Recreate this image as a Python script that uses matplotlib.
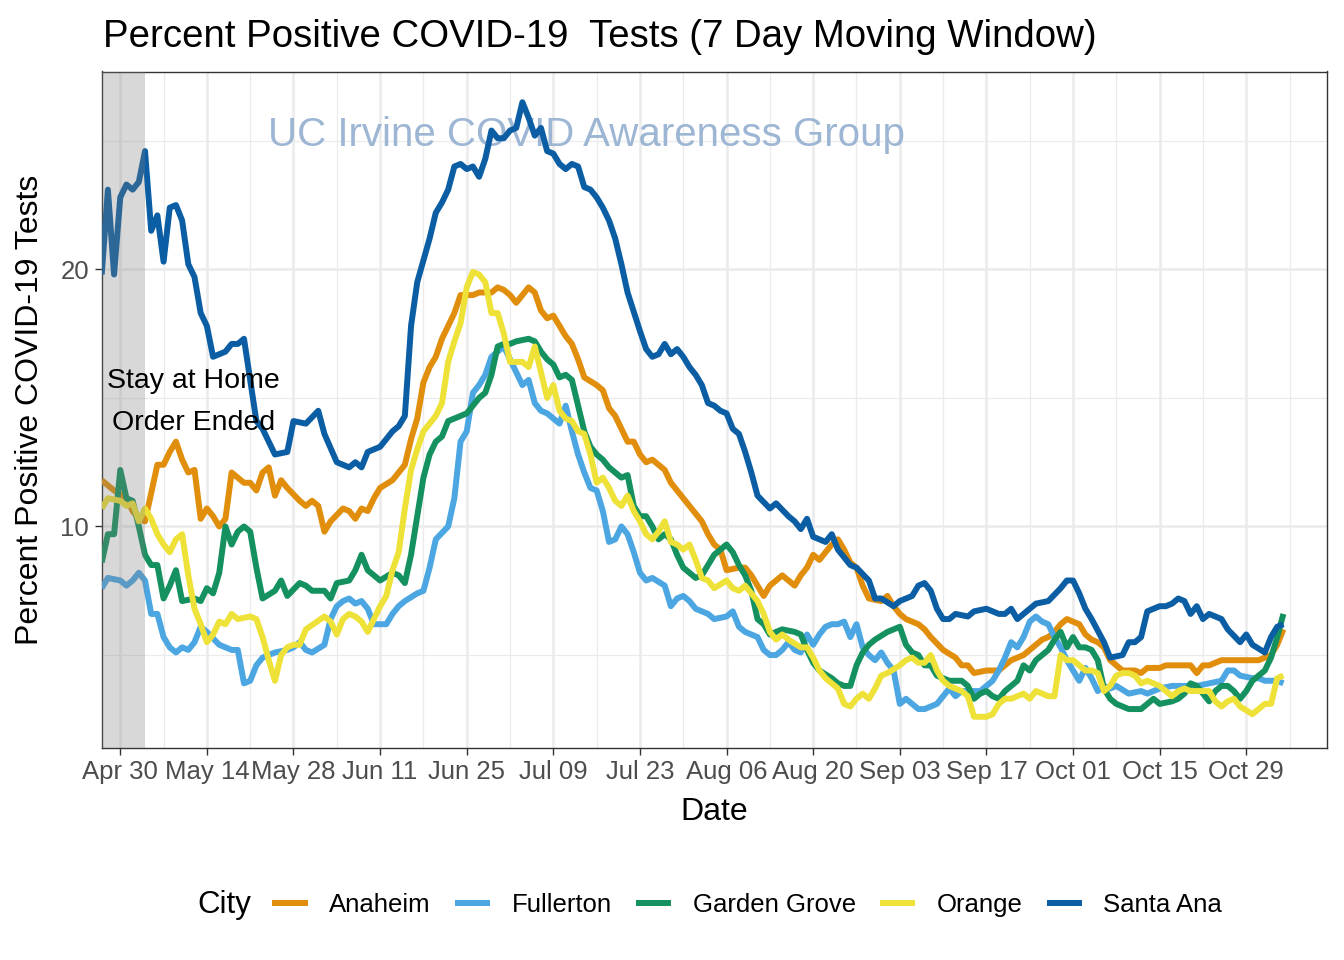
import pandas as pd
import matplotlib
matplotlib.use('Agg')
import matplotlib.pyplot as plt
from matplotlib.lines import Line2D

plt.rcParams['font.family'] = ['Liberation Sans', 'DejaVu Sans']

# day offsets from 2020-04-27 and 7-day percent positive
start = pd.Timestamp('2020-04-27')
order_end = pd.Timestamp('2020-05-04')

anaheim_day = [0, 2, 4, 5, 6, 7, 9, 10, 11, 12, 13, 14, 15, 16, 17, 18, 19, 20, 21, 22, 23, 24, 25, 26, 27, 28, 29, 30,
               32, 33, 34, 35, 36, 37, 39, 40, 41, 42, 43, 44, 45, 47, 48, 49, 50, 51, 52, 53, 54, 55, 57, 58, 59, 60, 61,
               63, 64, 65, 66, 67, 68, 69, 70, 71, 72, 73, 74, 75, 76, 77, 78, 80, 81, 82, 83, 84, 85, 86, 87, 88, 89, 90,
               91, 92, 94, 95, 96, 97, 98, 99, 100, 101, 103, 104, 105, 106, 107, 108, 110, 111, 112, 113, 114, 115, 116,
               117, 118, 119, 120, 121, 122, 123, 124, 126, 127, 128, 129, 130, 132, 133, 134, 136, 138, 139, 140, 141,
               143, 145, 146, 147, 149, 150, 152, 153, 154, 155, 156, 158, 159, 160, 161, 162, 163, 164, 165, 167, 168,
               169, 171, 172, 174, 176, 177, 178, 179, 181, 182, 183, 185, 186, 187, 189, 190, 191]
anaheim_pct = [11.8, 11.4, 11.1, 10.6, 10.3, 10.2, 12.4, 12.4, 12.9, 13.3, 12.6, 12.1, 12.2, 10.3, 10.7, 10.4, 10.0, 10.3,
               12.1, 11.9, 11.7, 11.7, 11.4, 12.1, 12.3, 11.2, 11.8, 11.5, 11.0, 10.8, 11.0, 10.8, 9.8, 10.2, 10.7, 10.6,
               10.3, 10.7, 10.6, 11.1, 11.5, 11.8, 12.1, 12.4, 13.4, 14.2, 15.6, 16.2, 16.6, 17.3, 18.3, 19.0, 19.0, 19.0,
               19.1, 19.1, 19.3, 19.2, 19.0, 18.7, 19.0, 19.3, 19.1, 18.4, 18.1, 18.2, 17.8, 17.4, 17.1, 16.5, 15.8, 15.5,
               15.3, 14.6, 14.3, 13.8, 13.3, 13.3, 12.8, 12.5, 12.6, 12.4, 12.2, 11.7, 11.1, 10.8, 10.5, 10.2, 9.7, 9.3,
               9.1, 8.3, 8.4, 8.4, 8.1, 7.7, 7.3, 7.7, 8.1, 7.9, 7.7, 8.1, 8.4, 8.9, 8.7, 9.0, 9.3, 9.5, 9.1, 8.6, 8.4,
               7.7, 7.2, 7.1, 7.3, 6.9, 6.6, 6.4, 6.2, 6.0, 5.7, 5.2, 4.9, 4.6, 4.6, 4.3, 4.4, 4.4, 4.6, 4.8, 5.0, 5.2,
               5.6, 5.7, 5.9, 6.2, 6.4, 6.2, 5.8, 5.6, 5.5, 5.3, 4.8, 4.6, 4.4, 4.4, 4.3, 4.5, 4.5, 4.6, 4.6, 4.6, 4.3,
               4.6, 4.6, 4.8, 4.8, 4.8, 4.8, 4.8, 4.8, 5.0, 5.4, 6.0]

fullerton_day = [0, 1, 3, 4, 5, 6, 7, 8, 9, 10, 11, 12, 13, 14, 15, 16, 17, 19, 20, 21, 22, 23, 24, 25, 26, 27, 28, 30,
                 31, 32, 33, 34, 36, 37, 38, 39, 40, 41, 42, 43, 44, 45, 46, 47, 48, 49, 51, 52, 53, 54, 56, 57, 58, 59,
                 60, 61, 62, 63, 65, 66, 67, 68, 69, 70, 71, 72, 73, 74, 75, 76, 77, 78, 79, 80, 81, 82, 83, 84, 85, 86,
                 87, 88, 89, 91, 92, 93, 94, 95, 96, 97, 98, 99, 101, 102, 103, 104, 106, 107, 108, 109, 110, 111, 112,
                 113, 114, 115, 116, 117, 118, 119, 120, 121, 122, 123, 124, 125, 126, 127, 128, 129, 130, 131, 132, 133,
                 135, 136, 137, 138, 139, 140, 142, 143, 144, 145, 146, 147, 148, 149, 150, 151, 152, 153, 154, 155, 156,
                 157, 158, 159, 160, 161, 162, 163, 164, 166, 168, 169, 171, 173, 174, 176, 177, 179, 181, 182, 183, 184,
                 186, 187, 188, 190, 191]
fullerton_pct = [7.6, 8.0, 7.9, 7.7, 7.9, 8.2, 7.9, 6.6, 6.6, 5.7, 5.3, 5.1, 5.3, 5.2, 5.5, 6.1, 5.9, 5.4, 5.3, 5.2, 5.2,
                 3.9, 4.0, 4.6, 4.9, 5.0, 5.1, 5.2, 5.3, 5.5, 5.2, 5.1, 5.4, 6.4, 6.9, 7.1, 7.2, 7.0, 7.1, 6.8, 6.2, 6.2,
                 6.2, 6.6, 6.9, 7.1, 7.4, 7.5, 8.4, 9.5, 10.0, 11.1, 13.3, 13.7, 15.2, 15.5, 15.9, 16.6, 17.0, 16.5,
                 16.0, 15.5, 15.7, 14.8, 14.5, 14.4, 14.2, 14.0, 14.7, 13.7, 12.8, 12.1, 11.5, 11.4, 10.6, 9.4, 9.5,
                 10.0, 9.7, 9.0, 8.2, 7.9, 8.0, 7.7, 6.9, 7.2, 7.3, 7.1, 6.8, 6.7, 6.6, 6.4, 6.5, 6.7, 6.1, 5.9, 5.7,
                 5.2, 5.0, 5.0, 5.2, 5.5, 5.2, 5.1, 5.8, 5.4, 5.8, 6.1, 6.2, 6.2, 6.3, 5.7, 6.2, 5.3, 5.0, 4.8, 5.1,
                 4.7, 4.4, 3.1, 3.3, 3.1, 2.9, 2.9, 3.1, 3.4, 3.7, 3.4, 3.6, 3.6, 3.6, 3.8, 4.0, 4.4, 4.9, 5.5, 5.3,
                 5.7, 6.3, 6.5, 6.3, 6.2, 5.7, 5.3, 4.8, 4.4, 4.0, 4.5, 4.1, 3.6, 3.8, 3.7, 3.8, 3.5, 3.6, 3.5, 3.7,
                 3.8, 3.8, 3.8, 3.8, 3.9, 4.0, 4.4, 4.4, 4.2, 4.1, 4.1, 4.0, 4.0, 3.9]

garden_grove_day = [0, 1, 2, 3, 4, 5, 6, 7, 8, 9, 10, 11, 12, 13, 15, 16, 17, 18, 19, 20, 21, 22, 23, 24, 25, 26, 28, 29,
                    30, 32, 33, 34, 35, 36, 37, 38, 40, 41, 42, 43, 44, 45, 47, 48, 49, 50, 51, 52, 53, 54, 55, 56, 57,
                    59, 60, 61, 62, 63, 64, 65, 66, 67, 69, 70, 71, 72, 73, 74, 75, 76, 77, 78, 79, 80, 81, 82, 83, 84,
                    85, 86, 87, 88, 89, 90, 91, 92, 93, 94, 95, 96, 97, 98, 99, 100, 101, 102, 103, 104, 105, 106, 107,
                    108, 109, 110, 112, 113, 114, 115, 116, 118, 119, 120, 121, 122, 123, 124, 125, 127, 128, 129, 130,
                    131, 132, 133, 134, 135, 137, 138, 139, 140, 141, 142, 143, 144, 145, 146, 148, 149, 150, 151, 152,
                    153, 154, 155, 156, 157, 158, 159, 160, 161, 162, 163, 164, 166, 168, 169, 170, 171, 173, 174, 175,
                    176, 177, 178, 179, 180, 181, 182, 183, 184, 185, 186, 187, 188, 189, 190, 191]
garden_grove_pct = [8.6, 9.7, 9.7, 12.2, 11.1, 11.0, 10.0, 8.9, 8.5, 8.5, 7.2, 7.7, 8.3, 7.1, 7.2, 7.1, 7.6, 7.4, 8.2,
                    10.0, 9.3, 9.8, 10.0, 9.8, 8.4, 7.2, 7.5, 7.9, 7.3, 7.8, 7.7, 7.5, 7.5, 7.5, 7.2, 7.8, 7.9, 8.3,
                    8.9, 8.3, 8.1, 7.9, 8.2, 8.1, 7.8, 8.9, 10.4, 11.9, 12.8, 13.3, 13.5, 14.1, 14.2, 14.4, 14.7, 15.0,
                    15.2, 15.9, 17.0, 17.1, 17.1, 17.2, 17.3, 17.2, 16.8, 16.5, 16.3, 15.8, 15.9, 15.7, 14.7, 13.7,
                    13.1, 12.8, 12.6, 12.3, 12.1, 11.9, 12.0, 10.8, 10.4, 10.4, 10.0, 9.5, 9.7, 9.5, 8.9, 8.4, 8.2, 8.0,
                    8.1, 8.5, 8.9, 9.1, 9.3, 9.0, 8.5, 8.1, 7.5, 6.4, 6.2, 5.8, 5.9, 6.0, 5.9, 5.8, 5.2, 4.7, 4.4, 4.1,
                    3.9, 3.8, 3.8, 4.6, 5.1, 5.4, 5.6, 5.9, 6.0, 6.1, 5.4, 5.1, 5.0, 4.6, 4.6, 4.2, 4.0, 4.0, 4.0, 3.8,
                    3.3, 3.5, 3.6, 3.4, 3.3, 3.6, 4.0, 4.6, 4.4, 4.8, 5.0, 5.2, 5.6, 5.9, 5.3, 5.7, 5.3, 5.3, 5.2, 4.8,
                    3.7, 3.3, 3.1, 2.9, 2.9, 3.1, 3.3, 3.1, 3.2, 3.3, 3.5, 3.9, 3.8, 3.5, 3.2, 3.6, 3.8, 3.8, 3.6, 3.3,
                    3.6, 4.0, 4.2, 4.4, 4.9, 5.7, 6.6]

orange_day = [0, 1, 3, 4, 5, 6, 7, 8, 9, 10, 11, 12, 13, 14, 15, 16, 17, 18, 19, 20, 21, 22, 24, 25, 26, 27, 28, 29, 30,
              31, 32, 33, 36, 37, 38, 39, 40, 41, 42, 43, 44, 45, 46, 47, 48, 49, 50, 51, 52, 54, 55, 56, 57, 58, 59, 60,
              61, 62, 63, 64, 65, 66, 68, 69, 70, 71, 72, 73, 74, 75, 76, 77, 78, 79, 80, 81, 82, 83, 84, 85, 86, 87, 88,
              89, 90, 91, 92, 93, 94, 95, 96, 97, 98, 99, 101, 102, 103, 104, 105, 106, 107, 108, 109, 110, 111, 113,
              114, 115, 116, 117, 118, 119, 120, 121, 122, 123, 124, 125, 126, 127, 129, 130, 131, 132, 133, 134, 135,
              136, 137, 138, 139, 140, 141, 142, 143, 144, 145, 146, 147, 148, 149, 150, 151, 152, 153, 154, 155, 156,
              157, 158, 159, 160, 161, 162, 163, 164, 165, 166, 167, 168, 169, 171, 172, 173, 174, 175, 176, 178, 179,
              180, 181, 182, 183, 184, 186, 187, 188, 189, 190, 191]
orange_pct = [10.7, 11.1, 11.0, 10.8, 10.9, 10.2, 10.7, 10.3, 9.7, 9.3, 9.0, 9.5, 9.7, 8.1, 6.8, 6.2, 5.5, 5.8, 6.3, 6.2,
              6.6, 6.4, 6.5, 6.4, 5.7, 4.8, 4.0, 5.0, 5.3, 5.4, 5.4, 6.0, 6.5, 6.3, 5.8, 6.4, 6.6, 6.5, 6.3, 5.9, 6.4,
              6.9, 7.3, 8.3, 9.0, 10.7, 12.2, 13.0, 13.7, 14.3, 14.8, 16.4, 17.2, 17.9, 19.3, 19.9, 19.8, 19.5, 18.3,
              18.3, 17.5, 16.4, 16.4, 16.2, 17.0, 16.0, 15.0, 15.5, 14.5, 14.2, 14.1, 13.7, 13.6, 12.8, 11.7, 11.9,
              11.5, 11.0, 10.8, 11.2, 10.6, 10.2, 9.7, 9.5, 9.8, 10.2, 9.4, 9.3, 9.1, 9.3, 8.7, 8.0, 7.9, 7.6, 7.9,
              7.6, 7.5, 7.7, 7.4, 7.1, 6.6, 5.9, 5.6, 5.8, 5.6, 5.3, 5.3, 4.9, 4.4, 4.1, 3.9, 3.7, 3.1, 3.0, 3.3, 3.5,
              3.3, 3.7, 4.2, 4.3, 4.6, 4.8, 4.9, 4.7, 4.7, 5.0, 4.4, 4.0, 3.8, 3.7, 3.6, 3.4, 2.6, 2.6, 2.6, 2.7, 3.1,
              3.3, 3.3, 3.4, 3.5, 3.3, 3.6, 3.5, 3.4, 3.4, 5.0, 4.8, 4.8, 4.6, 4.4, 4.4, 4.3, 3.6, 3.8, 4.2, 4.3, 4.3,
              4.2, 3.9, 4.0, 3.8, 3.6, 3.4, 3.6, 3.7, 3.6, 3.6, 3.6, 3.2, 3.0, 3.2, 3.3, 3.0, 2.7, 2.9, 3.1, 3.1, 4.1,
              4.2]

santa_ana_day = [0, 1, 2, 3, 4, 5, 6, 7, 8, 9, 10, 11, 12, 13, 14, 15, 16, 17, 18, 20, 21, 22, 23, 24, 25, 26, 28, 30,
                 31, 33, 35, 36, 38, 40, 41, 42, 43, 45, 47, 48, 49, 50, 51, 53, 54, 55, 56, 57, 58, 59, 60, 61, 62, 63,
                 64, 65, 66, 67, 68, 69, 70, 71, 72, 73, 74, 75, 76, 77, 78, 79, 80, 81, 82, 83, 84, 85, 87, 88, 89, 90,
                 91, 92, 93, 94, 95, 96, 97, 98, 99, 100, 101, 102, 103, 104, 105, 106, 108, 109, 111, 112, 113, 114,
                 115, 117, 118, 119, 121, 122, 124, 125, 126, 128, 129, 131, 132, 133, 134, 135, 136, 137, 138, 140,
                 141, 143, 145, 146, 147, 148, 150, 151, 153, 155, 156, 157, 158, 159, 160, 162, 163, 165, 166, 167,
                 168, 169, 170, 171, 172, 173, 174, 175, 176, 177, 178, 179, 181, 182, 184, 185, 186, 188, 189, 190, 191]
santa_ana_pct = [19.8, 23.1, 19.8, 22.8, 23.3, 23.1, 23.4, 24.6, 21.5, 22.1, 20.3, 22.4, 22.5, 21.9, 20.2, 19.7, 18.3,
                 17.8, 16.6, 16.8, 17.1, 17.1, 17.3, 15.7, 14.1, 13.8, 12.8, 12.9, 14.1, 14.0, 14.5, 13.6, 12.5, 12.3,
                 12.5, 12.3, 12.9, 13.1, 13.7, 13.9, 14.3, 17.8, 19.5, 21.2, 22.2, 22.6, 23.1, 24.0, 24.1, 23.9, 24.0,
                 23.6, 24.3, 25.4, 25.1, 25.1, 25.4, 25.5, 26.5, 25.9, 25.2, 25.5, 24.6, 24.5, 24.1, 23.9, 24.1, 24.0,
                 23.2, 23.1, 22.8, 22.4, 21.9, 21.2, 20.2, 19.1, 17.6, 16.9, 16.6, 16.7, 17.1, 16.7, 16.9, 16.6, 16.2,
                 15.9, 15.5, 14.8, 14.7, 14.5, 14.4, 13.8, 13.6, 12.9, 12.1, 11.2, 10.7, 10.9, 10.4, 10.2, 9.9, 10.3,
                 9.6, 9.4, 9.7, 9.1, 8.5, 8.4, 7.9, 7.2, 7.2, 6.9, 7.1, 7.3, 7.7, 7.8, 7.5, 6.8, 6.4, 6.4, 6.6, 6.5,
                 6.7, 6.8, 6.6, 6.6, 6.8, 6.4, 6.8, 7.0, 7.1, 7.6, 7.9, 7.9, 7.4, 6.8, 6.4, 5.5, 4.9, 5.0, 5.5, 5.5,
                 5.7, 6.7, 6.8, 6.9, 6.9, 7.0, 7.2, 7.1, 6.6, 6.9, 6.4, 6.6, 6.4, 6.0, 5.5, 5.8, 5.4, 5.1, 5.7, 6.1,
                 6.2]

cities = ['Anaheim', 'Fullerton', 'Garden Grove', 'Orange', 'Santa Ana']
series = {
    'Anaheim': (anaheim_day, anaheim_pct),
    'Fullerton': (fullerton_day, fullerton_pct),
    'Garden Grove': (garden_grove_day, garden_grove_pct),
    'Orange': (orange_day, orange_pct),
    'Santa Ana': (santa_ana_day, santa_ana_pct),
}
colors = {
    'Anaheim': '#E08E0B',
    'Fullerton': '#4BA6E2',
    'Garden Grove': '#14915F',
    'Orange': '#EEE138',
    'Santa Ana': '#0B5EA3',
}

W, H = 1344, 960
fig = plt.figure(figsize=(W / 100, H / 100), dpi=100)
left, right, top, bottom = 101.7, 1326.7, 71.5, 747.5
ax = fig.add_axes([left / W, 1 - bottom / H, (right - left) / W, (bottom - top) / H])

all_vals = [v for c in cities for v in series[c][1]]
lo, hi = min(all_vals), max(all_vals)
pad = 0.05 * (hi - lo)

for city in cities:
    days, pct = series[city]
    dates = start + pd.to_timedelta(days, unit='D')
    ax.plot(dates, pct, color=colors[city], linewidth=4.3, solid_joinstyle='round',
            solid_capstyle='butt', zorder=3)

# shaded stay-at-home period, drawn over the lines like the original
ax.axvspan(start - pd.Timedelta(days=2), order_end, color='#7F7F7F', alpha=0.3, lw=0, zorder=4)

ax.text(start + pd.Timedelta(days=14.8), 14.83, 'Stay at Home\nOrder Ended', ha='center', va='center',
        fontsize=20.5, linespacing=1.8, color='black', zorder=5)
ax.text(start + pd.Timedelta(days=78.3), 24.8, 'UC Irvine COVID Awareness Group', ha='center',
        va='baseline', fontsize=29, color='#9DB6D4', zorder=2)

major = pd.date_range('2020-04-30', '2020-10-29', freq='14D')
minor = pd.date_range('2020-04-23', '2020-11-12', freq='14D')
ax.set_xticks(major)
ax.set_xticklabels([d.strftime('%b %d') for d in major])
ax.set_xticks(minor, minor=True)
ax.set_yticks([10, 20])
ax.set_yticks([5, 15, 25], minor=True)

# limits last, so the ticks and the shaded span cannot widen them
ax.set_xlim(start, start + pd.Timedelta(days=198))
ax.set_ylim(lo - pad, hi + pad)

ax.grid(which='major', color='#EBEBEB', linewidth=1.8)
ax.grid(which='minor', color='#EBEBEB', linewidth=0.9)
ax.set_axisbelow(True)
for s in ax.spines.values():
    s.set_color('#333333')
    s.set_linewidth(1.0)
ax.tick_params(which='major', length=5, width=1.0, color='#333333', labelsize=18.5,
               labelcolor='#4D4D4D', pad=4)
ax.tick_params(which='minor', length=0)

fig.text(103 / W, 1 - 47 / H, 'Percent Positive COVID-19  Tests (7 Day Moving Window)',
         fontsize=27.6, ha='left', va='baseline')
fig.text(30 / W, 1 - (top + bottom) / 2 / H, 'Percent Positive COVID-19 Tests', rotation=90,
         fontsize=23, ha='center', va='center')
fig.text((left + right) / 2 / W, 1 - 812 / H, 'Date', fontsize=23, ha='center', va='center')

fig.text(197 / W, 1 - 905 / H, 'City', fontsize=22.5, ha='left', va='center')
handles = [Line2D([0], [0], color=colors[c], linewidth=4.3) for c in cities]
fig.legend(handles, cities, loc='center left', bbox_to_anchor=(275 / W, 1 - 905 / H), ncol=5,
           frameon=False, fontsize=18.5, handlelength=1.15, handletextpad=0.95, columnspacing=1.05,
           borderpad=0, borderaxespad=0)

fig.savefig('out.png', dpi=100)
